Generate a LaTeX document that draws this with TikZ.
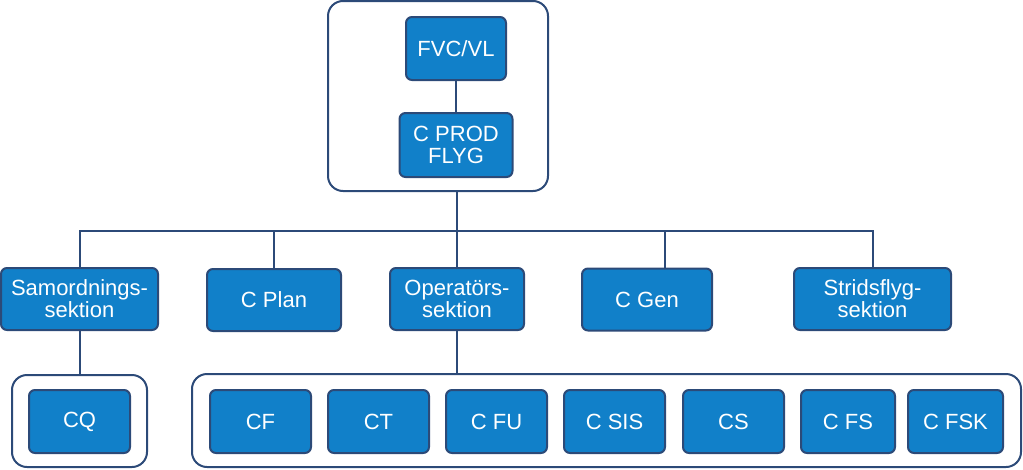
\documentclass[tikz,border=0pt]{standalone}
\usepackage{fontspec}
\setmainfont{Liberation Sans}
\definecolor{boxfill}{RGB}{17,128,201}
\definecolor{boxline}{RGB}{44,74,120}
\begin{document}
\begin{tikzpicture}[x=1pt,y=-1pt,
  unit/.style={draw=boxline, line width=2pt, fill=boxfill, rounded corners=6pt,
    text=white, align=center, inner sep=0pt, minimum height=62pt,
    font=\fontsize{22}{22}\selectfont},
  container/.style={draw=boxline, line width=2pt, rounded corners=15pt, inner sep=0pt},
  link/.style={draw=boxline, line width=2pt}]
\useasboundingbox (0,0) rectangle (1023,469);
% containers
\node[container, minimum width=220pt, minimum height=190pt] (topbox) at (438,96) {};
\node[container, minimum width=135pt, minimum height=92pt] (leftbox) at (79.5,421) {};
\node[container, minimum width=829pt, minimum height=93pt] (rightbox) at (606.5,420.5) {};
% top units
\node[unit, minimum width=100pt, minimum height=63pt] (fvc) at (456,48.5) {FVC/VL};
\node[unit, minimum width=113pt, minimum height=64pt] (cprod) at (456,145) {C PROD\\FLYG};
% middle row
\node[unit, minimum width=157pt] (samord) at (79.5,299) {Samordnings-\\sektion};
\node[unit, minimum width=134pt] (cplan) at (274,300) {C Plan};
\node[unit, minimum width=134pt] (oper) at (457,299) {Operatörs-\\sektion};
\node[unit, minimum width=130pt] (cgen) at (647,299.5) {C Gen};
\node[unit, minimum width=157pt] (strid) at (872.5,299) {Stridsflyg-\\sektion};
% bottom row
\node[unit, minimum width=101pt, minimum height=63pt] (cq) at (79.5,421.5) {CQ};
\node[unit, minimum width=101pt, minimum height=63pt] (cf) at (260.5,421.5) {CF};
\node[unit, minimum width=101pt, minimum height=63pt] (ct) at (378.5,421.5) {CT};
\node[unit, minimum width=101pt, minimum height=63pt] (cfu) at (496.5,421.5) {C FU};
\node[unit, minimum width=101pt, minimum height=63pt] (csis) at (614.5,421.5) {C SIS};
\node[unit, minimum width=101pt, minimum height=63pt] (cs) at (733.5,421.5) {CS};
\node[unit, minimum width=94pt, minimum height=63pt] (cfs) at (848,421.5) {C FS};
\node[unit, minimum width=95pt, minimum height=63pt] (cfsk) at (955.5,421.5) {C FSK};
% connectors
\draw[link] (fvc) -- (cprod);
\coordinate (bus) at (457,231);
\draw[link] (topbox.south -| bus) -- (bus);
\draw[link] (samord.north) |- (bus) -| (strid.north);
\draw[link] (cplan.north) -- (cplan.north |- bus);
\draw[link] (oper.north) -- (oper.north |- bus);
\draw[link] ([xshift=18pt]cgen.north) -- ([xshift=18pt]cgen.north |- bus);
\draw[link] (samord.south) -- (samord.south |- leftbox.north);
\draw[link] (oper.south) -- (oper.south |- rightbox.north);
\end{tikzpicture}
\end{document}
